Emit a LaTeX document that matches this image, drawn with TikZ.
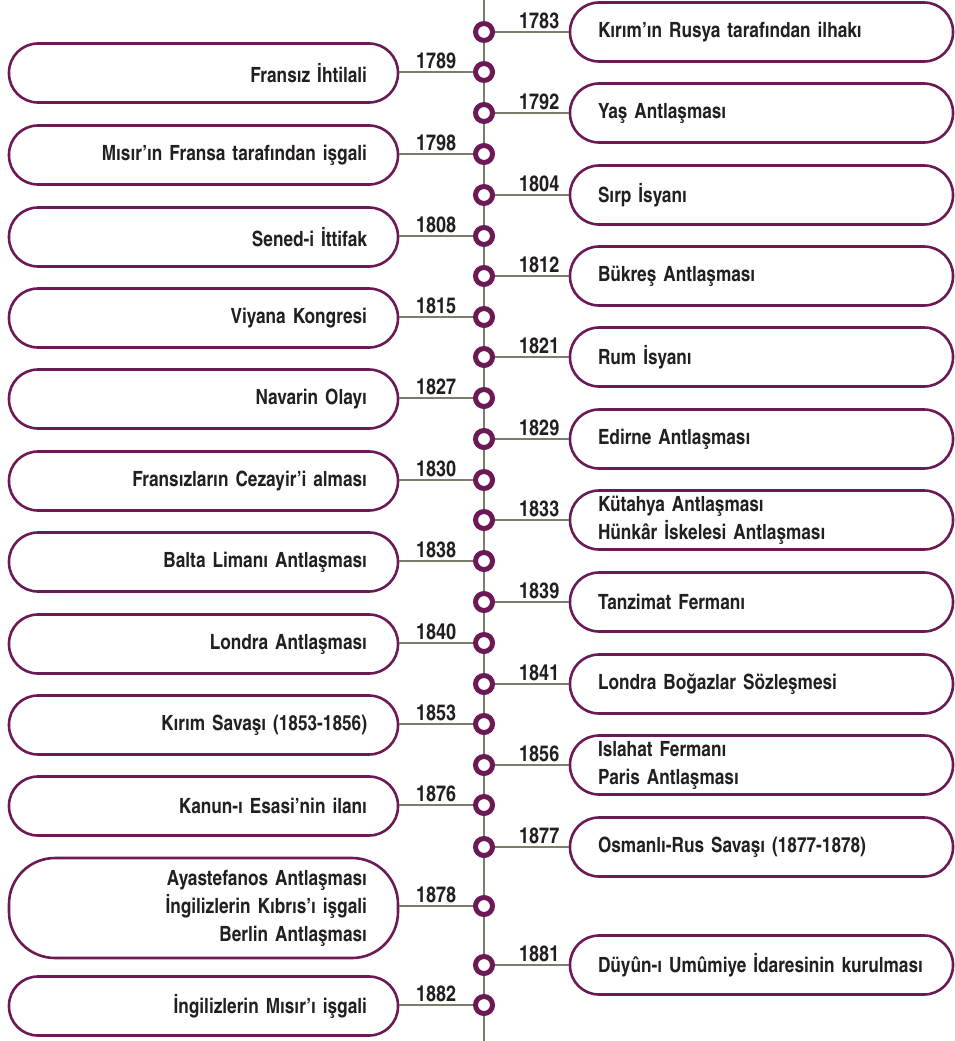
\documentclass[tikz,border=0pt]{standalone}
\usepackage{fontspec}
\setmainfont{texgyreheroscn-bold.otf}
\usepackage{tikz}
\usetikzlibrary{positioning}

\definecolor{plum}{HTML}{6B1A55}
\definecolor{stem}{HTML}{7D7B6A}
\definecolor{ink}{HTML}{231F20}

\begin{document}
\begin{tikzpicture}[
    x=1pt, y=-1pt,
    font=\fontsize{21}{28}\selectfont, text=ink,
    evdot/.style={circle, draw=plum, line width=5pt, fill=white, inner sep=0pt, minimum size=17pt},
    leftbox/.style={rectangle, draw=plum, line width=2.6pt, rounded corners=29pt, minimum width=389pt, minimum height=59pt, text width=327pt, inner xsep=31pt, inner ysep=0pt, align=right},
    rightbox/.style={rectangle, draw=plum, line width=2.6pt, rounded corners=29pt, minimum width=383pt, minimum height=59pt, text width=327pt, inner xsep=28pt, inner ysep=0pt, align=left},
    link/.style={draw=stem, line width=2.6pt},
    yr/.style={above, inner sep=1.5pt, font=\fontsize{22}{26}\selectfont}
]
\useasboundingbox (0,0) rectangle (955,1041);

% timeline axis
\coordinate (top) at (484,0);
\coordinate (bot) at (484,1041);
\draw[link] (top) -- (bot);

% dots on the axis
\node[evdot] (d1783) at (484,32) {};
\node[evdot] (d1789) at (484,72) {};
\node[evdot] (d1792) at (484,113) {};
\node[evdot] (d1798) at (484,154) {};
\node[evdot] (d1804) at (484,195) {};
\node[evdot] (d1808) at (484,236) {};
\node[evdot] (d1812) at (484,276) {};
\node[evdot] (d1815) at (484,317) {};
\node[evdot] (d1821) at (484,357) {};
\node[evdot] (d1827) at (484,398) {};
\node[evdot] (d1829) at (484,439) {};
\node[evdot] (d1830) at (484,480) {};
\node[evdot] (d1833) at (484,520) {};
\node[evdot] (d1838) at (484,561) {};
\node[evdot] (d1839) at (484,602) {};
\node[evdot] (d1840) at (484,643) {};
\node[evdot] (d1841) at (484,684) {};
\node[evdot] (d1853) at (484,724) {};
\node[evdot] (d1856) at (484,765) {};
\node[evdot] (d1876) at (484,805) {};
\node[evdot] (d1877) at (484,847) {};
\node[evdot] (d1878) at (484,906) {};
\node[evdot] (d1881) at (484,965) {};
\node[evdot] (d1882) at (484,1005) {};

% events on the right
\node[rightbox] (b1783) at (761.5,32) {Kırım’ın Rusya tarafından ilhakı};
\node[rightbox] (b1792) at (761.5,113) {Yaş Antlaşması};
\node[rightbox] (b1804) at (761.5,195) {Sırp İsyanı};
\node[rightbox] (b1812) at (761.5,276) {Bükreş Antlaşması};
\node[rightbox] (b1821) at (761.5,357) {Rum İsyanı};
\node[rightbox] (b1829) at (761.5,439) {Edirne Antlaşması};
\node[rightbox] (b1833) at (761.5,520) {Kütahya Antlaşması\\Hünkâr İskelesi Antlaşması};
\node[rightbox] (b1839) at (761.5,602) {Tanzimat Fermanı};
\node[rightbox] (b1841) at (761.5,684) {Londra Boğazlar Sözleşmesi};
\node[rightbox] (b1856) at (761.5,765) {Islahat Fermanı\\Paris Antlaşması};
\node[rightbox] (b1877) at (761.5,847) {Osmanlı-Rus Savaşı (1877-1878)};
\node[rightbox] (b1881) at (761.5,965) {Düyûn-ı Umûmiye İdaresinin kurulması};

% events on the left
\node[leftbox] (b1789) at (203.5,73) {Fransız İhtilali};
\node[leftbox] (b1798) at (203.5,155) {Mısır’ın Fransa tarafından işgali};
\node[leftbox] (b1808) at (203.5,237) {Sened-i İttifak};
\node[leftbox] (b1815) at (203.5,318) {Viyana Kongresi};
\node[leftbox] (b1827) at (203.5,399) {Navarin Olayı};
\node[leftbox] (b1830) at (203.5,481) {Fransızların Cezayir’i alması};
\node[leftbox] (b1838) at (203.5,562) {Balta Limanı Antlaşması};
\node[leftbox] (b1840) at (203.5,644) {Londra Antlaşması};
\node[leftbox] (b1853) at (203.5,725) {Kırım Savaşı (1853-1856)};
\node[leftbox] (b1876) at (203.5,806) {Kanun-ı Esasi’nin ilanı};
\node[leftbox, minimum height=100pt, rounded corners=46pt] (b1878) at (203.5,908) {Ayastefanos Antlaşması\\İngilizlerin Kıbrıs’ı işgali\\Berlin Antlaşması};
\node[leftbox] (b1882) at (203.5,1006) {İngilizlerin Mısır’ı işgali};

% links with years
\draw[link] (d1783) -- node[yr, pos=0.6] {1783} (d1783 -| b1783.west);
\draw[link] (d1792) -- node[yr, pos=0.6] {1792} (d1792 -| b1792.west);
\draw[link] (d1804) -- node[yr, pos=0.6] {1804} (d1804 -| b1804.west);
\draw[link] (d1812) -- node[yr, pos=0.6] {1812} (d1812 -| b1812.west);
\draw[link] (d1821) -- node[yr, pos=0.6] {1821} (d1821 -| b1821.west);
\draw[link] (d1829) -- node[yr, pos=0.6] {1829} (d1829 -| b1829.west);
\draw[link] (d1833) -- node[yr, pos=0.6] {1833} (d1833 -| b1833.west);
\draw[link] (d1839) -- node[yr, pos=0.6] {1839} (d1839 -| b1839.west);
\draw[link] (d1841) -- node[yr, pos=0.6] {1841} (d1841 -| b1841.west);
\draw[link] (d1856) -- node[yr, pos=0.6] {1856} (d1856 -| b1856.west);
\draw[link] (d1877) -- node[yr, pos=0.6] {1877} (d1877 -| b1877.west);
\draw[link] (d1881) -- node[yr, pos=0.6] {1881} (d1881 -| b1881.west);

\draw[link] (d1789 -| b1789.east) -- node[yr] {1789} (d1789);
\draw[link] (d1798 -| b1798.east) -- node[yr] {1798} (d1798);
\draw[link] (d1808 -| b1808.east) -- node[yr] {1808} (d1808);
\draw[link] (d1815 -| b1815.east) -- node[yr] {1815} (d1815);
\draw[link] (d1827 -| b1827.east) -- node[yr] {1827} (d1827);
\draw[link] (d1830 -| b1830.east) -- node[yr] {1830} (d1830);
\draw[link] (d1838 -| b1838.east) -- node[yr] {1838} (d1838);
\draw[link] (d1840 -| b1840.east) -- node[yr] {1840} (d1840);
\draw[link] (d1853 -| b1853.east) -- node[yr] {1853} (d1853);
\draw[link] (d1876 -| b1876.east) -- node[yr] {1876} (d1876);
\draw[link] (d1878 -| b1878.east) -- node[yr] {1878} (d1878);
\draw[link] (d1882 -| b1882.east) -- node[yr] {1882} (d1882);
\end{tikzpicture}
\end{document}
